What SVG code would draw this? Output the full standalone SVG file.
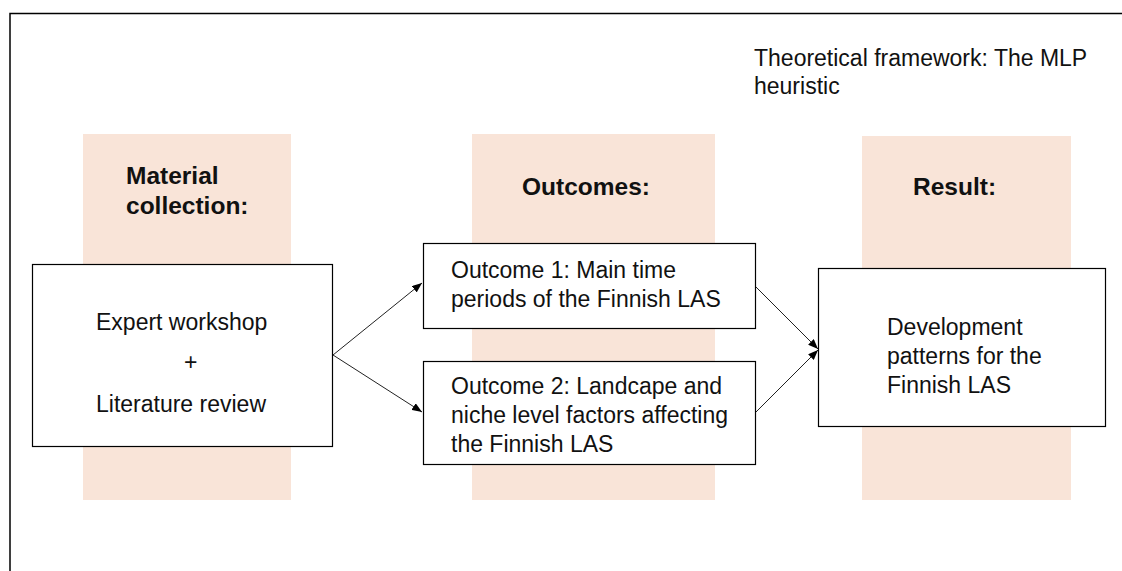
<svg xmlns="http://www.w3.org/2000/svg" width="1122" height="571" viewBox="0 0 1122 571">
<style>
.col{fill:#f9e4d8}
.box{fill:#fff;stroke:#000;stroke-width:1.2}
.t{font-family:"Liberation Sans",Arial,sans-serif;font-size:23px;fill:#111}
.h{font-family:"Liberation Sans",Arial,sans-serif;font-size:24.5px;font-weight:bold;fill:#111}
.c{stroke:#222;stroke-width:1;fill:none;marker-end:url(#ah)}
</style>
<defs>
<marker id="ah" markerWidth="10" markerHeight="8" refX="10" refY="4" orient="auto" markerUnits="userSpaceOnUse">
<path d="M0,0 L10,4 L0,8 Z" fill="#000"/>
</marker>
</defs>
<rect width="1122" height="571" fill="#fff"/>
<path d="M10,571 V13.5 H1122" fill="none" stroke="#000" stroke-width="1.5"/>
<text class="t" x="754" y="66">Theoretical framework: The MLP</text>
<text class="t" x="754" y="94">heuristic</text>
<g id="col1"><rect class="col" x="83" y="134" width="208" height="366"/>
<text class="h" x="126" y="184">Material</text><text class="h" x="126" y="214">collection:</text></g>
<g id="col2"><rect class="col" x="472" y="134" width="243" height="366"/>
<text class="h" x="522" y="195">Outcomes:</text></g>
<g id="col3"><rect class="col" x="862" y="136" width="209" height="364"/>
<text class="h" x="913" y="195">Result:</text></g>
<g id="connectors">
<line class="c" x1="333" y1="355" x2="422" y2="283"/>
<line class="c" x1="333" y1="355" x2="422" y2="412"/>
<line class="c" x1="756" y1="287" x2="818" y2="349"/>
<line class="c" x1="756" y1="412" x2="818" y2="350"/>
</g>
<g id="input"><rect class="box" x="32.5" y="264.5" width="300" height="182"/>
<text class="t" x="96" y="330">Expert workshop</text>
<text class="t" x="184" y="370">+</text>
<text class="t" x="96" y="412">Literature review</text></g>
<g id="outcome1"><rect class="box" x="423.5" y="243.5" width="332" height="85"/>
<text class="t" x="451" y="278">Outcome 1: Main time</text>
<text class="t" x="451" y="307">periods of the Finnish LAS</text></g>
<g id="outcome2"><rect class="box" x="423.5" y="361.5" width="332" height="103"/>
<text class="t" x="451" y="394">Outcome 2: Landcape and</text>
<text class="t" x="451" y="423">niche level factors affecting</text>
<text class="t" x="451" y="452">the Finnish LAS</text></g>
<g id="result"><rect class="box" x="818.5" y="268.5" width="287" height="158"/>
<text class="t" x="887" y="335">Development</text>
<text class="t" x="887" y="364">patterns for the</text>
<text class="t" x="887" y="393">Finnish LAS</text></g>
</svg>
